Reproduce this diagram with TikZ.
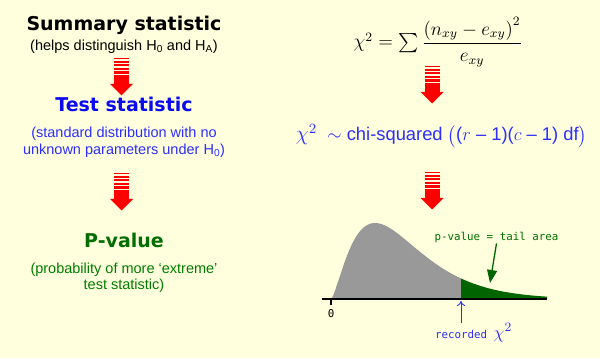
\documentclass[tikz,border=0pt]{standalone}
\usepackage{amsmath}
\usepackage[no-math]{fontspec}
\setmainfont{Liberation Sans}
\newfontfamily\headfont{DejaVu Sans}
\newfontfamily\labelfont{DejaVu Sans Mono}
\usetikzlibrary{arrows.meta}

\definecolor{bgcream}{RGB}{255,255,221}
\definecolor{arrowred}{RGB}{255,0,0}
\definecolor{testblue}{RGB}{10,10,240}
\definecolor{subblue}{RGB}{45,45,255}
\definecolor{pgreen}{RGB}{0,110,0}
\definecolor{subgreen}{RGB}{0,125,0}
\definecolor{tailgreen}{RGB}{0,100,0}
\definecolor{curvegrey}{RGB}{153,153,153}

\tikzset{
    headline/.style={font=\headfont\bfseries\fontsize{19}{22}\selectfont, anchor=base, inner sep=0pt},
    subline/.style={font=\fontsize{14.5}{16.5}\selectfont, align=center, anchor=base, inner sep=0pt},
    smalllabel/.style={font=\labelfont\fontsize{10.8}{13}\selectfont, inner sep=0pt},
    redarrow/.pic={
        \foreach \yy/\ww in {0.5/1, 4/1.6, 7.5/2, 11/2.3, 14.5/2.5, 17.8/2.5}
            \draw[arrowred, line width=\ww pt] (-7.5,\yy) -- (7.5,\yy);
        \fill[arrowred] (-7.5,19.5) rectangle (7.5,26.5);
        \fill[arrowred] (-11.5,26) -- (11.5,26) -- (0,37.5) -- cycle;
    }
}

\begin{document}
\begin{tikzpicture}[x=1pt, y=-1pt]
    % 背景
    \fill[bgcream] (0,0) rectangle (600,358);
    \useasboundingbox (0,0) rectangle (600,358);

    % 左列：三个阶段
    \node[headline] (summary) at (124,31) {Summary statistic};
    \node[subline] (helps) at (124,50.5) {(helps distinguish H\textsubscript{0} and H\textsubscript{A})};
    \node[headline, text=testblue] (test) at (124,111.5) {Test statistic};
    \node[subline, text=subblue] (std) at (124,154.5)
        {(standard distribution with no\\unknown parameters under H\textsubscript{0})};
    \node[headline, text=pgreen] (pval) at (124,248) {P-value};
    \node[subline, text=subgreen] (prob) at (124,290)
        {(probability of more `extreme'\\test statistic)};

    % 红色箭头
    \pic at (121.5,58) {redarrow};
    \pic at (121.5,173) {redarrow};
    \pic at (432,66) {redarrow};
    \pic at (432,172) {redarrow};

    % 右列：公式与分布
    \node[anchor=base, inner sep=0pt, font=\fontsize{12}{14}\selectfont] (chisq) at (438,48)
        {\scalebox{1.6}{$\chi^2 = \sum \dfrac{\left(n_{xy}-e_{xy}\right)^2}{e_{xy}}$}};
    \node[anchor=base, inner sep=0pt, text=subblue, font=\fontsize{12}{14}\selectfont] (dist) at (441.5,141)
        {\scalebox{1.53}{\scalebox{1.15}{$\chi^2$}\ \ $\sim$ chi-squared $\bigl($($r$ -- 1)($c$ -- 1) df$\bigr)$}};

    % 卡方密度曲线
    \begin{scope}[declare function={
            chit(\x) = (\x-331)/14.67;
            dens(\x) = 299 - 76*pow(chit(\x)/3,1.5)*exp(1.5-chit(\x)/2);
        }]
        \fill[curvegrey] (331,299) --
            plot[domain=331.3:461, samples=70] (\x, {dens(\x)}) --
            (461,299) -- cycle;
        \fill[tailgreen] (461,299) --
            plot[domain=461:547, samples=40] (\x, {dens(\x)}) --
            (547,299) -- cycle;
    \end{scope}

    % 坐标轴与刻度
    \draw[line width=1.8pt] (322,299) -- (547,299);
    \draw[line width=1.2pt] (331,299) -- (331,305);
    \node[smalllabel, anchor=north] (zero) at (331,309) {0};

    % 尾部面积标签
    \node[smalllabel, text=pgreen, anchor=base] (tail) at (496.5,241) {p-value = tail area};
    \coordinate (tailpt) at (490,283);
    \draw[tailgreen, line width=1.3pt, -{Triangle[length=13pt, width=10pt]}] (tail.south) -- (tailpt);

    % 观测值标签
    \node[smalllabel, text=subblue, anchor=base west] (rec) at (435,338)
        {recorded \scalebox{1.6}{$\chi^2$}};
    \coordinate (cut) at (461,301);
    \draw[subblue, line width=0.9pt, -{To[length=5pt, width=8pt]}] (rec.north -| cut) -- (cut);
\end{tikzpicture}
\end{document}
